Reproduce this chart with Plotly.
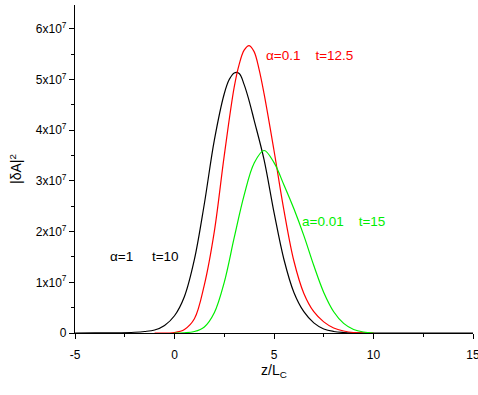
import plotly.graph_objects as go

# Data (values in units of 1e7)
z_black = [-5, -4, -3, -2, -1.5, -1, -0.5, 0, 0.5, 1, 1.5, 2, 2.5, 2.75, 3, 3.25, 3.5, 3.75, 4, 4.5, 5, 5.5, 6, 6.5, 7, 7.5, 8, 8.5, 9, 10, 15]
v_black = [0, 0.001, 0.004, 0.015, 0.03, 0.06, 0.15, 0.34, 0.72, 1.45, 2.55, 3.8, 4.72, 5.0, 5.13, 5.12, 4.9, 4.58, 4.2, 3.42, 2.38, 1.45, 0.8, 0.42, 0.2, 0.08, 0.03, 0.01, 0.002, 0, 0]

z_red = [-1, 0, 0.5, 1, 1.5, 2, 2.5, 3, 3.25, 3.5, 3.75, 4, 4.25, 4.5, 5, 5.5, 6, 6.5, 7, 7.5, 8, 8.5, 9, 10]
v_red = [0, 0.01, 0.07, 0.28, 0.95, 2.0, 3.5, 4.85, 5.3, 5.58, 5.67, 5.55, 5.2, 4.72, 3.6, 2.42, 1.42, 0.78, 0.42, 0.22, 0.1, 0.04, 0.01, 0]

z_green = [0, 0.5, 1, 1.5, 2, 2.5, 3, 3.5, 4, 4.5, 5, 5.5, 6, 6.5, 7, 7.5, 8, 8.5, 9, 9.5, 10]
v_green = [0, 0.005, 0.03, 0.12, 0.4, 1.0, 1.88, 2.72, 3.35, 3.6, 3.36, 2.92, 2.45, 1.92, 1.33, 0.8, 0.42, 0.19, 0.07, 0.02, 0]

y_tickvals = [0, 1, 2, 3, 4, 5, 6]
y_ticktext = ["0", "1x10<sup>7</sup>", "2x10<sup>7</sup>", "3x10<sup>7</sup>", "4x10<sup>7</sup>",
              "5x10<sup>7</sup>", "6x10<sup>7</sup>"]
x_tickvals = [-5, 0, 5, 10, 15]
x_ticktext = ["-5", "0", "5", "10", "15"]
x_minor = [-2.5, 2.5, 7.5, 12.5]

labels = ["α=1&nbsp;&nbsp;&nbsp;&nbsp; t=10", "α=0.1&nbsp;&nbsp;&nbsp; t=12.5", "a=0.01&nbsp;&nbsp;&nbsp; t=15"]
label_z = [-1.53, 6.78, 8.47]   # annotation centres (x in z units)
label_v = [1.5, 5.48, 2.19]     # annotation centres (y in 1e7 units)

scale = 1e7
YMAX = 6.47
colors = ["#000000", "#ff0000", "#00ee00"]

fig = go.Figure()
for zs, vs, col in [(z_black, v_black, colors[0]), (z_red, v_red, colors[1]), (z_green, v_green, colors[2])]:
    fig.add_trace(go.Scatter(x=zs, y=[v * scale for v in vs], mode="lines",
                             line=dict(color=col, width=1.2, shape="spline", smoothing=1.0),
                             showlegend=False, hoverinfo="skip"))

fig.update_layout(
    width=478, height=395,
    margin=dict(l=75, r=5, t=5, b=62),
    plot_bgcolor="white", paper_bgcolor="white",
    font=dict(family="Arial, Liberation Sans", size=12, color="black"),
    xaxis=dict(range=[-5, 15], tickvals=x_tickvals, ticktext=x_ticktext,
               ticks="outside", ticklen=5, tickwidth=1, tickcolor="black",
               showline=True, linecolor="black", linewidth=1.2, showgrid=False, zeroline=False,
               automargin=False, ticklabelstandoff=5, ticklabeloverflow="allow",
               minor=dict(tickvals=x_minor, ticks="outside", ticklen=3, tickcolor="black"),
               title=dict(text="z/L<sub>C</sub>", font=dict(size=14), standoff=4),
               tickfont=dict(size=12)),
    yaxis=dict(range=[0, YMAX * scale], tickvals=[v * scale for v in y_tickvals], ticktext=y_ticktext,
               ticks="outside", ticklen=5, tickwidth=1, tickcolor="black",
               showline=True, linecolor="black", linewidth=1.2, showgrid=False, zeroline=False,
               automargin=False,
               minor=dict(tickvals=[(v + 0.5) * scale for v in y_tickvals], ticks="outside", ticklen=3,
                          tickcolor="black"),
               title=dict(text="|δA|<sup>2</sup>", font=dict(size=14), standoff=10),
               tickfont=dict(size=12)),
)

for i in range(3):
    fig.add_annotation(x=label_z[i], y=label_v[i] * scale, text=labels[i],
                       showarrow=False, font=dict(size=13.5, color=colors[i]))

fig.write_html("out.html", config={"displayModeBar": False},
               post_script="document.body.style.margin='0';document.body.style.padding='0';")
